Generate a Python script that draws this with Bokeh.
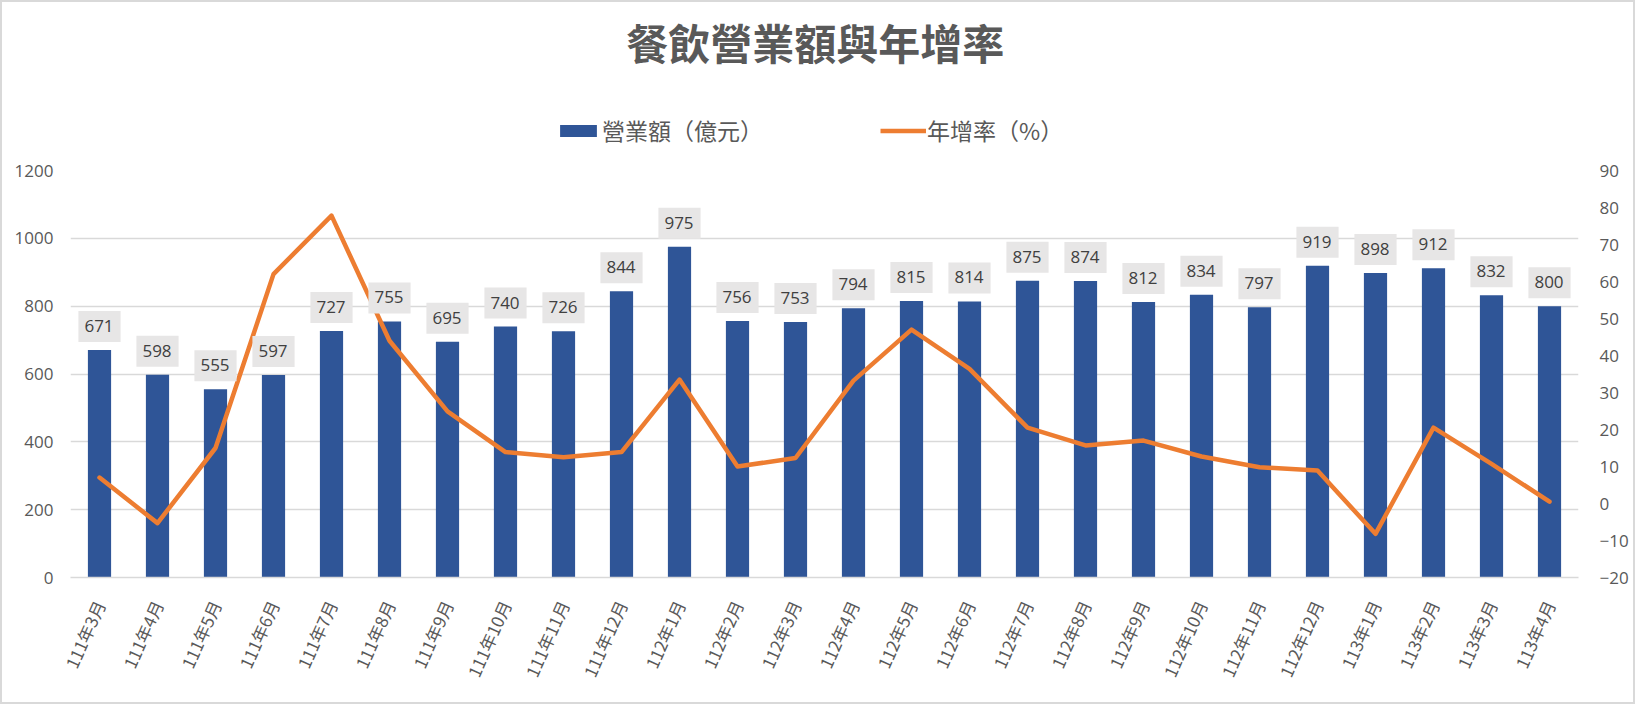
from bokeh.plotting import figure
from bokeh.layouts import column
from bokeh.models import (FactorRange, Range1d, LinearAxis, FixedTicker, ColumnDataSource,
                          Legend, LegendItem, Label)
from bokeh.core.properties import value
from bokeh.embed import file_html
from bokeh.resources import INLINE

months = ["111年3月", "111年4月", "111年5月", "111年6月", "111年7月", "111年8月", "111年9月",
          "111年10月", "111年11月", "111年12月",
          "112年1月", "112年2月", "112年3月", "112年4月", "112年5月", "112年6月", "112年7月",
          "112年8月", "112年9月", "112年10月", "112年11月", "112年12月",
          "113年1月", "113年2月", "113年3月", "113年4月"]
revenue = [671, 598, 555, 597, 727, 755, 695, 740, 726, 844,
           975, 756, 753, 794, 815, 814, 875, 874, 812, 834, 797, 919,
           898, 912, 832, 800]
growth = [7.0, -5.3, 15.0, 62.0, 77.8, 44.0, 24.9, 13.9, 12.5, 13.9,
          33.5, 10.0, 12.3, 33.2, 47.0, 36.4, 20.5, 15.7, 17.0, 12.7, 9.8, 8.9,
          -8.2, 20.5, 10.7, 0.5]
left_ticks = [0, 200, 400, 600, 800, 1000, 1200]
right_ticks = [-20, -10, 0, 10, 20, 30, 40, 50, 60, 70, 80, 90]

title_text = "餐飲營業額與年增率"
bar_label = "營業額（億元）"
line_label = "年增率（%）"

GRAY = "#595959"
BLUE = "#2F5597"
ORANGE = "#ED7D31"
CJK = "Noto Sans CJK TC"
NUM = "Open Sans"

W = 1631
H = 700
HEAD_H = 156
FRAME_H = 407

# ---------------- header: title + legend ----------------
head = figure(width=W, height=HEAD_H, x_range=Range1d(0, W), y_range=Range1d(0, HEAD_H),
              x_axis_type=None, y_axis_type=None,
              output_backend="svg", toolbar_location=None,
              min_border=0, background_fill_color="white", border_fill_color="white")
head.grid.visible = False
head.outline_line_color = None

head.add_layout(Label(x=805.5, y=HEAD_H - 39, text=title_text,
                      text_align="center", text_baseline="middle",
                      text_font=CJK, text_font_size="42px", text_font_style="bold",
                      text_color=GRAY))

dummy_bar = head.vbar(x=[-1000], top=[-1000], width=1, fill_color=BLUE, line_color=None)
dummy_line = head.line(x=[-1000, -999], y=[-1000, -1000], line_color=ORANGE, line_width=4.5)
legend = Legend(items=[LegendItem(label=bar_label, renderers=[dummy_bar]),
                       LegendItem(label=line_label, renderers=[dummy_line])],
                orientation="horizontal", location=(485, 11),
                glyph_width=46, glyph_height=15, label_standoff=1, spacing=117,
                label_text_font=CJK, label_text_font_size="23px", label_text_color=GRAY,
                border_line_color=None, background_fill_alpha=0, padding=0, margin=0)
head.add_layout(legend)

# ---------------- main chart ----------------
src = ColumnDataSource(dict(month=months, revenue=revenue, growth=growth,
                            txt=[str(v) for v in revenue]))

p = figure(width=W, height=H - HEAD_H,
           x_range=FactorRange(factors=months, range_padding=0),
           y_range=Range1d(left_ticks[0], left_ticks[-1]),
           output_backend="svg", toolbar_location=None,
           min_border_left=68, min_border_right=W - 1576, min_border_top=12,
           min_border_bottom=H - HEAD_H - 12 - FRAME_H,
           background_fill_color="white", border_fill_color="white")
p.outline_line_color = None
p.extra_y_ranges = {"rate": Range1d(right_ticks[0], right_ticks[-1])}

p.vbar(x="month", top="revenue", width=0.4, source=src, fill_color=BLUE, line_color=None)
p.line(x="month", y="growth", source=src, y_range_name="rate",
       line_color=ORANGE, line_width=4.5, line_join="round", line_cap="round")

p.text(x="month", y="revenue", text="txt", source=src,
       text_align="center", text_baseline="bottom", y_offset=-8,
       text_font=value(NUM), text_font_size="17px", text_color="#404040",
       background_fill_color="#E7E6E6",
       padding=dict(left=6, right=7, top=9, bottom=10))

yax = p.yaxis[0]
yax.ticker = FixedTicker(ticks=left_ticks)
right = LinearAxis(y_range_name="rate", ticker=FixedTicker(ticks=right_ticks))
p.add_layout(right, "right")

for ax in (yax, right):
    ax.axis_line_color = None
    ax.major_tick_line_color = None
    ax.minor_tick_line_color = None
    ax.major_tick_out = 0
    ax.major_tick_in = 0
    ax.major_label_text_font = NUM
    ax.major_label_text_font_size = "17px"
    ax.major_label_text_color = GRAY
yax.major_label_standoff = 17
right.major_label_standoff = 21

xax = p.xaxis[0]
xax.axis_line_color = "#D9D9D9"
xax.axis_line_width = 1.5
xax.major_tick_line_color = None
xax.minor_tick_line_color = None
xax.major_tick_out = 0
xax.major_tick_in = 0
xax.major_label_orientation = 1.15
xax.major_label_standoff = 24
xax.major_label_text_font = CJK
xax.major_label_text_font_size = "17px"
xax.major_label_text_color = GRAY

p.xgrid.grid_line_color = None
p.ygrid.ticker = FixedTicker(ticks=left_ticks)
p.ygrid.grid_line_color = "#D9D9D9"
p.ygrid.grid_line_width = 1.5

layout = column(head, p, spacing=0)
layout.styles = {"border": "2px solid #D9D9D9"}

open("out.html", "w").write(file_html(layout, INLINE))
